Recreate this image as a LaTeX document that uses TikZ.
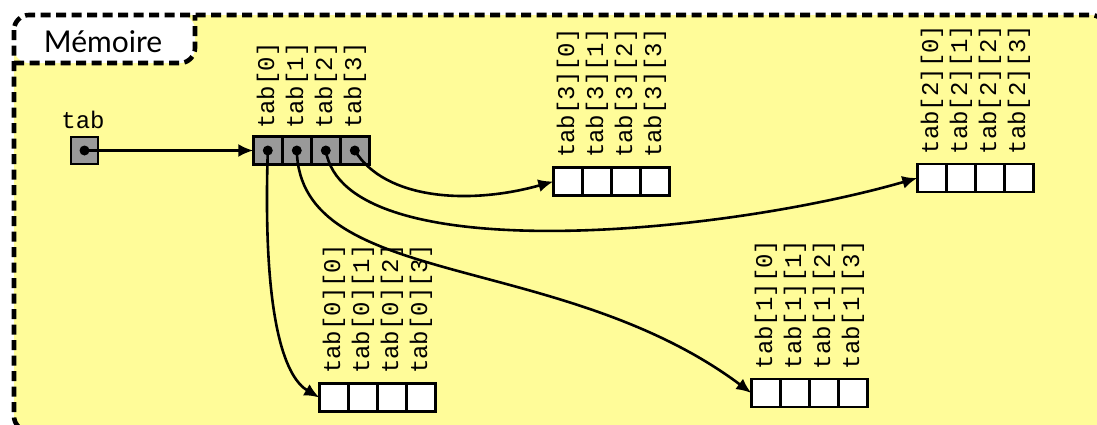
\documentclass[tikz,border=0pt]{standalone}
\usepackage{fontspec}
\newfontfamily\monof{Liberation Mono}
\newfontfamily\titlef{Lato}
\usetikzlibrary{arrows.meta}
\definecolor{memyellow}{RGB}{255,252,153}
\definecolor{cellgray}{RGB}{153,153,153}
\begin{document}
\begin{tikzpicture}[x=1pt,y=-1pt,
  cell/.style={draw, line width=2.6pt, minimum width=29pt, minimum height=28pt, inner sep=0pt, outer sep=0pt, fill=white},
  gcell/.style={cell, fill=cellgray},
  lbl/.style={font=\monof\fontsize{24}{28}\selectfont, rotate=90, anchor=west, inner sep=0pt},
  ptr/.style={line width=2.6pt, -{Latex[length=15pt,width=13pt]}},
  ptrdot/.style={circle, fill=black, inner sep=0pt, minimum size=10pt},
  framestyle/.style={line width=4.6pt, dash pattern=on 10pt off 5.5pt, rounded corners=15pt}]
\useasboundingbox (0,0) rectangle (1097,424);
\clip (0,0) rectangle (1097,424);
% memory frame
\fill[memyellow, rounded corners=15pt] (14,15) rectangle (1106,431);
\fill[white, rounded corners=15pt] (14,15) rectangle (195,63);
\draw[framestyle] (14,15) rectangle (1106,431);
\draw[framestyle] (14,63) -- (195,63) -- (195,15);
\node[font=\titlef\fontsize{30}{34}\selectfont, anchor=base] (title) at (103,52) {Mémoire};
% single pointer tab
\node[gcell, minimum width=27pt, minimum height=27pt] (t) at (84.5,150.5) {};
\node[font=\monof\fontsize{24}{28}\selectfont, anchor=base] (tlabel) at (83,128) {tab};
% level-1 array
\foreach \i in {0,...,3}{
  \node[gcell] (m\i) at (267.8+29*\i,150.5) {};
  \node[lbl] (ml\i) at (267.8+29*\i,129) {tab[\i]};
}
% level-2 arrays: name / left center x / center y
\foreach \a/\x/\y in {0/333.8/397.5, 1/765.8/393, 2/931.8/178, 3/567.8/181.5}{
  \foreach \j in {0,...,3}{
    \node[cell] (a\a-\j) at (\x+29*\j,\y) {};
    \node[lbl] (al\a-\j) at (\x+29*\j,\y-23.5) {tab[\a][\j]};
  }
}
% pointers
\draw[ptr] (t.center) -- (m0.west);
\draw[ptr] (m0.center) .. controls (262,330) and (288,379) .. (a0-0.west);
\draw[ptr] (m1.center) .. controls (300,290) and (560,250) .. (a1-0.west);
\draw[ptr] (m2.center) .. controls (345,270) and (720,235) .. (a2-0.west);
\draw[ptr] (m3.center) .. controls (385,200) and (470,205) .. (a3-0.west);
% dots
\node[ptrdot] (dt) at (t.center) {};
\foreach \i in {0,...,3}{
  \node[ptrdot] (d\i) at (m\i.center) {};
}
\end{tikzpicture}
\end{document}
